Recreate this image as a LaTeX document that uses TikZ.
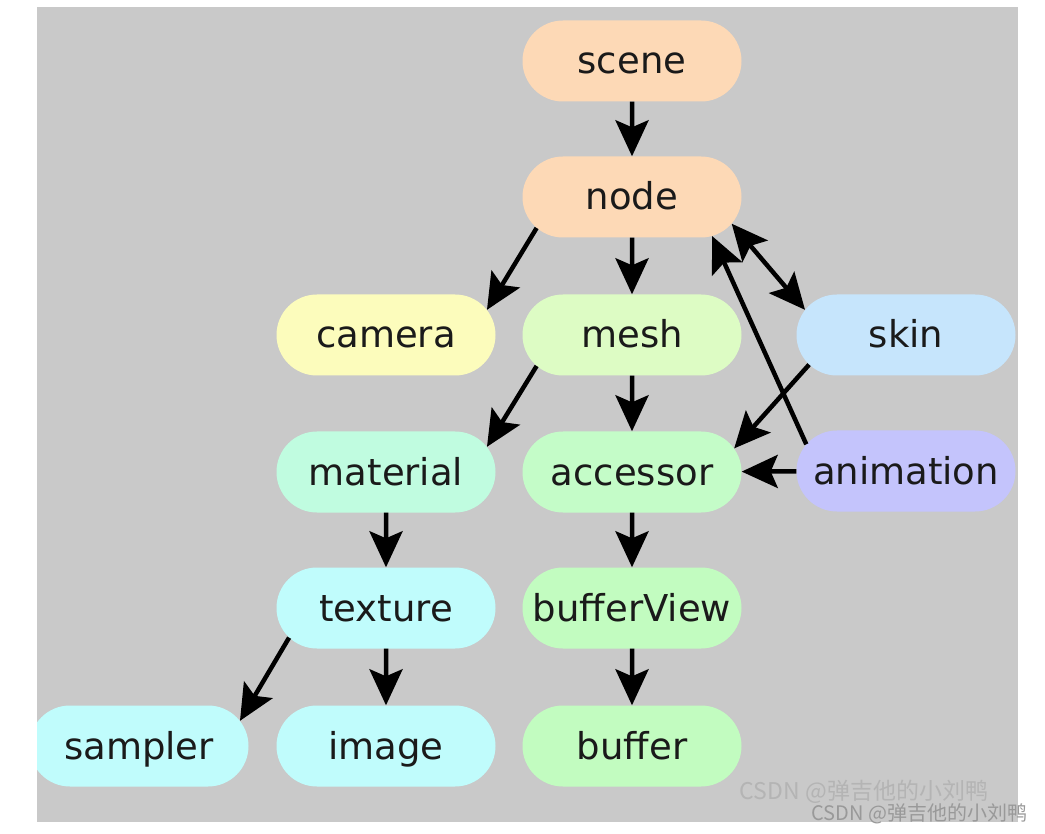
\documentclass[tikz,border=0pt]{standalone}
\usepackage{fontspec}
\setmainfont{DejaVu Sans}
\newfontfamily\cjkfont{Noto Sans CJK SC}
\usepackage{tikz}
\usetikzlibrary{arrows.meta,shapes.misc}
\usepackage{xcolor}
\definecolor{Ink}{HTML}{1A1A1A}
\definecolor{Backdrop}{HTML}{C9C9C9}
\definecolor{Peach}{HTML}{FDD9B6}
\definecolor{Butter}{HTML}{FCFCBC}
\definecolor{Lime}{HTML}{DDFCC4}
\definecolor{Sky}{HTML}{C6E5FC}
\definecolor{Mint}{HTML}{C0FCE0}
\definecolor{Leaf}{HTML}{C4FCC8}
\definecolor{Lilac}{HTML}{C4C4FC}
\definecolor{Aqua}{HTML}{C0FCFC}
\definecolor{Sprout}{HTML}{C2FCC0}
\definecolor{Stamp}{HTML}{B4B4B4}
\newcommand{\GltfBox}[5]{%
  \node[pill,fill=#4] (#1) at (#2,#3) {#5};%
}

\begin{document}
\begin{tikzpicture}[x=1pt,y=-1pt,
  pill/.style={rounded rectangle,minimum width=219pt,minimum height=81pt,inner sep=0pt,
    text height=30pt,text depth=4pt,text=Ink,font=\fontsize{37}{40}\selectfont},
  link/.style={-{Stealth[length=36pt,width=33pt,inset=7pt]},line width=4.5pt,black},
  both/.style={{Stealth[length=36pt,width=33pt,inset=7pt]}-{Stealth[length=36pt,width=33pt,inset=7pt]},line width=4.5pt,black}]
\useasboundingbox (0,0) rectangle (1045,834);
\fill[white] (0,0) rectangle (1045,834);
\fill[Backdrop] (37,7) rectangle (1018,822);
\begin{scope}
\clip (37,7) rectangle (1018,822);
% nodes
\GltfBox{scene}{632}{61}{Peach}{scene}
\GltfBox{gnode}{632}{197}{Peach}{node}
\GltfBox{camera}{386}{335}{Butter}{camera}
\GltfBox{mesh}{632}{335}{Lime}{mesh}
\GltfBox{skin}{906}{335}{Sky}{skin}
\GltfBox{material}{386}{472}{Mint}{material}
\GltfBox{accessor}{632}{472}{Leaf}{accessor}
\GltfBox{animation}{906}{471}{Lilac}{animation}
\GltfBox{texture}{386}{608}{Aqua}{texture}
\GltfBox{bufferView}{632}{608}{Sprout}{bufferView}
\GltfBox{sampler}{139}{746}{Aqua}{sampler}
\GltfBox{image}{386}{746}{Aqua}{image}
\GltfBox{buffer}{632}{746}{Sprout}{buffer}
% edges
\draw[link] (scene) -- (gnode);
\draw[link] (gnode.198) -- (camera.14);
\draw[link] (gnode) -- (mesh);
\draw[both] (gnode.-15) -- (skin.166);
\draw[link] (animation.165) -- (gnode.-26);
\draw[link] (mesh.198) -- (material.14);
\draw[link] (mesh) -- (accessor);
\draw[link] (skin.197) -- (accessor.13);
\draw[link] (animation) -- (accessor);
\draw[link] (material) -- (texture);
\draw[link] (accessor) -- (bufferView);
\draw[link] (texture.197) -- (sampler.14);
\draw[link] (texture) -- (image);
\draw[link] (bufferView) -- (buffer);
\node[font=\cjkfont\fontsize{23}{23}\selectfont,text=Stamp] (markfaint) at (864,792) {CSDN @弹吉他的小刘鸭};
\end{scope}
\node[font=\cjkfont\fontsize{20}{20}\selectfont,text=gray!80,anchor=east] (mark) at (1031,814) {CSDN @弹吉他的小刘鸭};
\end{tikzpicture}
\end{document}
